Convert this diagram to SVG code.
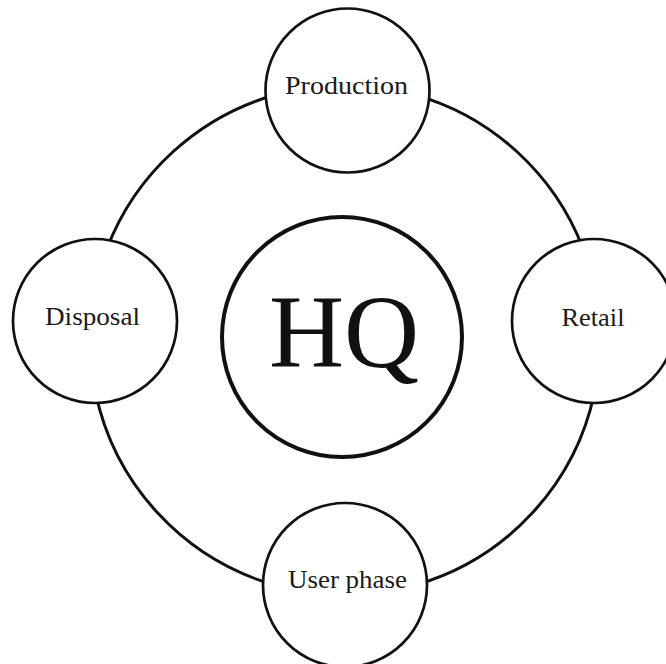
<svg xmlns="http://www.w3.org/2000/svg" width="666" height="664" viewBox="0 0 666 664">
  <style>
    .ring { fill: none; stroke: #111; stroke-width: 3; }
    .node { fill: #fff; stroke: #111; stroke-width: 2.7; }
    .hub { fill: #fff; stroke: #111; stroke-width: 4; }
    .label { font-family: "Liberation Serif", "Times New Roman", serif; font-size: 25px; fill: #1a1a1a; text-anchor: middle; }
    .hub-label { font-family: "Liberation Serif", "Times New Roman", serif; font-size: 104px; fill: #111; text-anchor: middle; }
  </style>
  <rect width="666" height="664" fill="#fff"/>

  <!-- cycle arcs on a ring centred at (345,340), r=255 -->
  <g id="connectors">
    <path class="ring" d="M415.3,94.9 A255,255 0 0 1 583.1,248.6"/>
    <path class="ring" d="M594.4,393.0 A255,255 0 0 1 417.4,584.5"/>
    <path class="ring" d="M272.6,584.5 A255,255 0 0 1 95.6,393.0"/>
    <path class="ring" d="M106.9,248.6 A255,255 0 0 1 276.9,94.3"/>
  </g>

  <g id="hq">
    <circle class="hub" cx="342" cy="337" r="120"/>
    <text class="hub-label" x="344" y="367">HQ</text>
  </g>

  <g id="production">
    <circle class="node" cx="347.5" cy="90.5" r="82"/>
    <text class="label" x="346.5" y="94" textLength="123" lengthAdjust="spacingAndGlyphs">Production</text>
  </g>

  <g id="retail">
    <circle class="node" cx="594" cy="321" r="82"/>
    <text class="label" x="593" y="326" textLength="63" lengthAdjust="spacingAndGlyphs">Retail</text>
  </g>

  <g id="user-phase">
    <circle class="node" cx="345" cy="585" r="82"/>
    <text class="label" x="347.5" y="588" textLength="119" lengthAdjust="spacingAndGlyphs">User phase</text>
  </g>

  <g id="disposal">
    <circle class="node" cx="95" cy="321" r="82"/>
    <text class="label" x="92.5" y="325" textLength="95" lengthAdjust="spacingAndGlyphs">Disposal</text>
  </g>
</svg>
